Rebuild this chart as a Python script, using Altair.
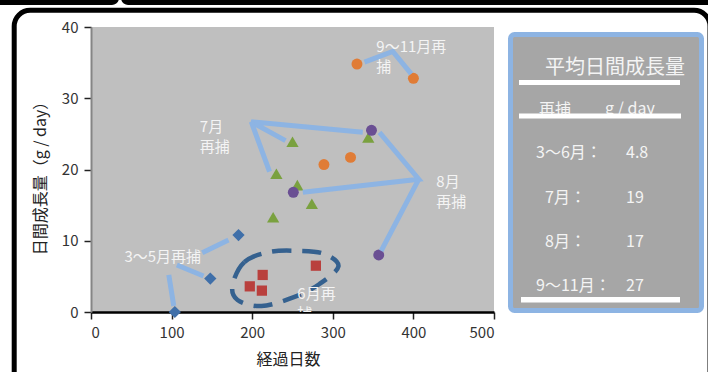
import altair as alt
import pandas as pd

FONT = "Noto Sans CJK JP"

# ---- data series ----
blue_x = [104, 148, 183]
blue_y = [0.0, 4.7, 10.8]
red_x = [197, 213, 212, 279]
red_y = [3.6, 5.2, 3.0, 6.5]
green_x = [250, 230, 256, 274, 226, 344]
green_y = [23.9, 19.4, 17.8, 15.2, 13.3, 24.5]
purple_x = [251, 348, 357]
purple_y = [16.8, 25.5, 8.0]
orange_x = [289, 322, 330, 400]
orange_y = [20.7, 21.7, 34.8, 32.8]

series_colors = ["#3f6fa9", "#b9403d", "#7aa13f", "#6a4f93", "#e07c36"]
series_shapes = ["diamond", "square", "triangle-up", "circle", "circle"]
series_sizes = [150, 105, 150, 120, 120]

x_ticks = [0, 100, 200, 300, 400, 500]
y_ticks = [0, 10, 20, 30, 40]

# callout annotation paths (data units)
call_path = [1, 1, 2, 2, 3, 3, 4, 4, 4, 5, 5, 6, 6, 6, 7, 7, 8, 8, 8]
call_x = [96.5, 102.7, 106.5, 139.6, 138, 170.6,
          241.3, 198.8, 337.2, 221.5, 198.8,
          357.9, 406.7, 262.8, 360, 406.7,
          339.3, 374.4, 397.3]
call_y = [5.2, 0.84, 6.6, 5.06, 8.33, 10.1,
          24.06, 26.7, 25.24, 19.7, 26.7,
          25.2, 18.64, 16.8, 8.57, 18.64,
          35.07, 36.56, 33.43]

# dashed outline around the June points (data units)
ell_x = [175.6, 190.4, 221.4, 258.7, 289.7, 307.0, 283.5, 252.5, 211.5, 181.8]
ell_y = [3.79, 7.02, 8.43, 8.57, 8.15, 6.4, 3.93, 2.11, 0.84, 1.69]

# callout labels
lab_text = ["3～5月再捕", "7月", "再捕", "8月", "再捕", "9～11月再", "捕", "6月再", "捕"]
lab_x = [41.5, 135, 135, 428.5, 428.5, 354, 354, 256, 256]
lab_y = [7.7, 26.0, 23.2, 18.26, 15.45, 37.2, 34.4, 2.55, -0.25]

# side box contents
box_title = "平均日間成長量"
box_head = ["再捕", "g  /  day"]
box_rows = ["3～6月：", "7月：", "8月：", "9～11月："]
box_vals = ["4.8", "19", "17", "27"]

# ---- tables ----
series_xy = [(blue_x, blue_y), (red_x, red_y), (green_x, green_y),
             (purple_x, purple_y), (orange_x, orange_y)]
calls = pd.DataFrame({"p": call_path, "x": call_x, "y": call_y,
                      "i": list(range(len(call_x)))})
ell = pd.DataFrame({"x": ell_x, "y": ell_y, "i": list(range(len(ell_x)))})
labs = pd.DataFrame({"t": lab_text, "x": lab_x, "y": lab_y})
one = pd.DataFrame({"a": [0]})

xs = alt.Scale(domain=[0, 500], nice=False)
ys = alt.Scale(domain=[0, 40], nice=False)
XT = "経過日数"
YT = "日間成長量（g / day）"

x_axis = alt.Axis(values=x_ticks, title=XT, grid=False,
                  labelFont=FONT, labelFontSize=15, labelColor="#333333",
                  labelPadding=6, tickSize=7, tickColor="#222222", tickWidth=1.5,
                  domainColor="#000000", domainWidth=2.5,
                  titleFont=FONT, titleFontSize=16, titleFontWeight="normal",
                  titleColor="#222222", titleX=197, titleY=47,
                  titleBaseline="middle", titleAlign="center")
y_axis = alt.Axis(values=y_ticks, title=YT, grid=False,
                  labelFont=FONT, labelFontSize=15, labelColor="#333333",
                  labelPadding=6, tickSize=7, tickColor="#222222", tickWidth=1.5,
                  domainColor="#858585", domainWidth=2,
                  titleFont=FONT, titleFontSize=16, titleFontWeight="normal",
                  titleColor="#222222", titleX=-51, titleY=147, titleAngle=270,
                  titleBaseline="middle", titleAlign="center")


def X():
    return alt.X("x:Q", scale=xs, title=XT)


def Y():
    return alt.Y("y:Q", scale=ys, title=YT)


point_layers = []
for k, ((sx, sy), col, shp, sz) in enumerate(zip(series_xy, series_colors, series_shapes, series_sizes)):
    df = pd.DataFrame({"x": sx, "y": sy})
    enc = dict(x=alt.X("x:Q", scale=xs, axis=x_axis), y=alt.Y("y:Q", scale=ys, axis=y_axis)) if k == 0 \
        else dict(x=X(), y=Y())
    point_layers.append(
        alt.Chart(df).mark_point(filled=True, opacity=1, color=col, shape=shp, size=sz,
                                 strokeWidth=0).encode(**enc))

callouts = alt.Chart(calls).mark_line(color="#8db4e3", strokeWidth=5, strokeJoin="miter",
                                      strokeCap="butt").encode(
    x=X(), y=Y(), detail="p:N", order="i:Q")

ellipse = alt.Chart(ell).mark_line(color="#35618f", strokeWidth=4.5, strokeDash=[19, 11],
                                   interpolate="cardinal-closed").encode(
    x=X(), y=Y(), order="i:Q")

labels = alt.Chart(labs).mark_text(align="left", baseline="middle", font=FONT,
                                   fontSize=15, color="#f4f4f4", clip=True).encode(
    x=X(), y=Y(), text="t:N")


# ---- decorations (pixel positions relative to the plot origin) ----
def prect(x, x2, y, y2, **kw):
    return alt.Chart(one).mark_rect(**kw).encode(
        x=alt.value(x), x2=alt.value(x2), y=alt.value(y), y2=alt.value(y2))


def ptext(t, x, y, **kw):
    return alt.Chart(one).mark_text(font=FONT, color="#f4f4f4", baseline="middle", **kw).encode(
        x=alt.value(x), y=alt.value(y), text=alt.value(t))


band1 = prect(-120, 28, -60, -22, color="#000000", cornerRadius=7)
band2 = prect(30, 660, -60, -22, color="#000000", cornerRadius=7)
frame = prect(-76.8, 619, -16.7, 420, fill="#ffffff", fillOpacity=0,
              stroke="#000000", strokeWidth=5, cornerRadius=16)

box = prect(419.5, 610.5, 7.5, 283.5, fill="#a6a6a6", stroke="#8db4e3",
            strokeWidth=5, cornerRadius=4)

t_title = ptext(box_title, 524, 41, fontSize=20, align="center")
t_h1 = ptext(box_head[0], 448, 83, fontSize=16, align="left")
t_h2 = ptext(box_head[1], 514, 82, fontSize=16, align="left")
bar1 = prect(428, 589, 53, 58, color="#ffffff")
bar2 = prect(428, 590, 86.5, 91.5, color="#ffffff")
bar3 = prect(430, 589, 270, 275.5, color="#ffffff")

row_y = [126, 171, 215, 259]
row_x = [445, 454, 454, 445]
rows = []
for t, v, yy, xx in zip(box_rows, box_vals, row_y, row_x):
    rows.append(ptext(t, xx, yy, fontSize=16, align="left"))
    rows.append(ptext(v, 535, yy, fontSize=16, align="left"))

chart = alt.layer(
    *point_layers, ellipse, callouts, labels,
    band1, band2, frame, box, t_title, t_h1, t_h2, bar1, bar2, bar3, *rows,
).properties(
    width=403, height=285,
    autosize=alt.AutoSizeParams(type="none"),
    padding={"left": 91, "top": 27, "right": 214, "bottom": 60},
    background="#ffffff",
).configure_view(fill="#bfbfbf", stroke=None, strokeWidth=0)

chart.save("out.html", embed_options={"renderer": "svg", "actions": False})
